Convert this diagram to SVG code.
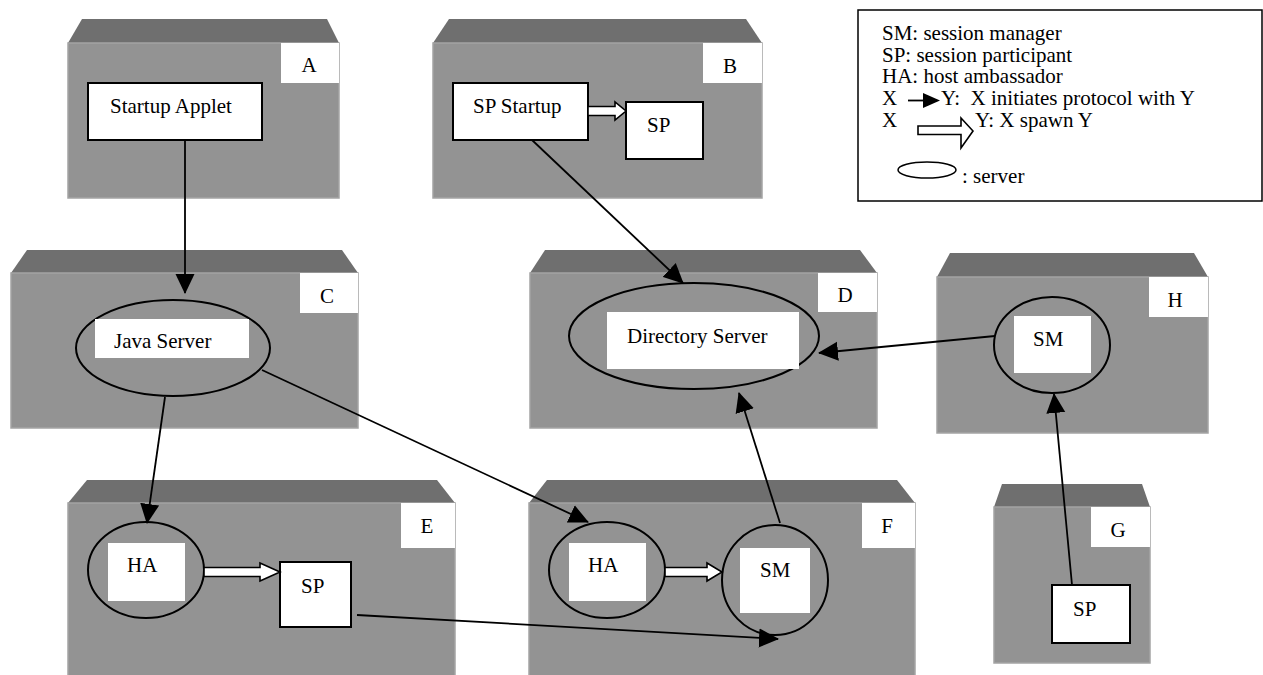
<svg xmlns="http://www.w3.org/2000/svg" width="1263" height="675" viewBox="0 0 1263 675" font-family="'Liberation Serif', 'Times New Roman', serif" font-size="21">
<defs>
<style>
.top{fill:#6f6f6f;}
.front{fill:#939393;stroke:#a4a4a4;stroke-width:1.5;}
.lab{fill:#fff;}
.box{fill:#fff;stroke:#000;stroke-width:2;}
.srv{fill:none;stroke:#000;stroke-width:2;}
svg text.t{font-family:'Liberation Serif','Times New Roman',serif !important;font-size:21px !important;fill:#000;}
svg text.c{text-anchor:middle;}
.conn{stroke:#000;stroke-width:1.8;fill:none;marker-end:url(#ah);}
.spawn{fill:#fff;stroke:#000;stroke-width:1.6;stroke-linejoin:miter;}
</style>
<marker id="ah" markerUnits="userSpaceOnUse" markerWidth="20" markerHeight="20" viewBox="0 0 20 20" refX="19" refY="10" orient="auto">
<path d="M0,0.5 L20,10 L0,19.5 z" fill="#000"/>
</marker>
</defs>
<rect width="1263" height="675" fill="#fff"/>

<g id="nodeA">
<polygon class="top" points="82,19 327,19 339,43 68,43"/>
<rect class="front" x="68" y="43" width="271" height="155"/>
<rect class="lab" x="281" y="43" width="58" height="40"/>
<text class="t c" x="309" y="72">A</text>
<g id="startupApplet">
<rect class="box" x="88" y="83" width="174" height="57"/>
<text class="t" x="110" y="113">Startup Applet</text>
</g>
</g>

<g id="nodeB">
<polygon class="top" points="449,19 746,19 762,43 433,43"/>
<rect class="front" x="433" y="43" width="329" height="155"/>
<rect class="lab" x="703" y="43" width="59" height="40"/>
<text class="t c" x="730" y="73">B</text>
<g id="spStartup">
<rect class="box" x="453" y="83" width="135" height="57"/>
<text class="t" x="473" y="113">SP Startup</text>
</g>
<g id="spB">
<rect class="box" x="626" y="102" width="77" height="57"/>
<text class="t" x="647" y="132">SP</text>
</g>
</g>

<g id="nodeC">
<polygon class="top" points="27,250 342,250 358,273 11,273"/>
<rect class="front" x="11" y="273" width="347" height="155"/>
<rect class="lab" x="300" y="273" width="58" height="40"/>
<text class="t c" x="327" y="303">C</text>
<g id="javaServer">
<ellipse class="srv" cx="173" cy="348" rx="97" ry="48"/>
<rect class="lab" x="95" y="319" width="154" height="39"/>
<text class="t" x="114" y="348">Java Server</text>
</g>
</g>

<g id="nodeD">
<polygon class="top" points="545,250 860,250 877,273 530,273"/>
<rect class="front" x="530" y="273" width="347" height="155"/>
<rect class="lab" x="818" y="273" width="59" height="39"/>
<text class="t c" x="845" y="302">D</text>
<g id="directoryServer">
<ellipse class="srv" cx="694" cy="336" rx="125" ry="53"/>
<rect class="lab" x="607" y="312" width="192" height="57"/>
<text class="t" x="627" y="343">Directory Server</text>
</g>
</g>

<g id="nodeH">
<polygon class="top" points="950,253 1194,253 1208,277 937,277"/>
<rect class="front" x="937" y="277" width="271" height="156"/>
<rect class="lab" x="1149" y="277" width="59" height="40"/>
<text class="t c" x="1175" y="307">H</text>
<g id="smH">
<ellipse class="srv" cx="1052" cy="345" rx="58" ry="48"/>
<rect class="lab" x="1014" y="316" width="77" height="57"/>
<text class="t" x="1033" y="346">SM</text>
</g>
</g>

<g id="nodeE">
<polygon class="top" points="87,480 437,480 455,503 68,503"/>
<rect class="front" x="68" y="503" width="387" height="175"/>
<rect class="lab" x="401" y="503" width="54" height="45"/>
<text class="t c" x="427" y="533">E</text>
<g id="haE">
<ellipse class="srv" cx="146" cy="570" rx="58" ry="48"/>
<rect class="lab" x="108" y="543" width="77" height="58"/>
<text class="t" x="127" y="572">HA</text>
</g>
<g id="spE">
<rect class="box" x="280" y="562" width="71" height="65"/>
<text class="t" x="301" y="593">SP</text>
</g>
</g>

<g id="nodeF">
<polygon class="top" points="547,480 897,480 915,503 529,503"/>
<rect class="front" x="529" y="503" width="386" height="175"/>
<rect class="lab" x="862" y="503" width="53" height="45"/>
<text class="t c" x="887" y="533">F</text>
<g id="haF">
<ellipse class="srv" cx="607" cy="570" rx="58" ry="48"/>
<rect class="lab" x="569" y="543" width="77" height="58"/>
<text class="t" x="588" y="572">HA</text>
</g>
<g id="smF">
<ellipse class="srv" cx="775" cy="580" rx="53" ry="55"/>
<rect class="lab" x="740" y="548" width="70" height="65"/>
<text class="t" x="760" y="577">SM</text>
</g>
</g>

<g id="nodeG">
<polygon class="top" points="1002,484 1142,484 1150,507 994,507"/>
<rect class="front" x="994" y="507" width="156" height="156"/>
<rect class="lab" x="1091" y="507" width="59" height="40"/>
<text class="t c" x="1118" y="537">G</text>
<g id="spG">
<rect class="box" x="1052" y="585" width="78" height="58"/>
<text class="t" x="1073" y="616">SP</text>
</g>
</g>

<g id="connectors">
<line class="conn" x1="185" y1="140" x2="185" y2="293"/>
<line class="conn" x1="532" y1="140" x2="683" y2="283"/>
<line class="conn" x1="165" y1="397" x2="147" y2="523"/>
<line class="conn" x1="262" y1="370" x2="588" y2="522"/>
<line class="conn" x1="995" y1="336" x2="819" y2="353"/>
<line class="conn" x1="780" y1="523" x2="739" y2="393"/>
<line class="conn" x1="357" y1="615" x2="778" y2="639"/>
<line class="conn" x1="1072" y1="585" x2="1054" y2="394"/>
<polygon class="spawn" points="588,106.5 615,106.5 615,102 626,111 615,120 615,115.5 588,115.5"/>
<polygon class="spawn" points="204,567.5 260,567.5 260,563 280,572 260,581 260,576.5 204,576.5"/>
<polygon class="spawn" points="665,567.5 707,567.5 707,563 722,572 707,581 707,576.5 665,576.5"/>
</g>

<g id="legend">
<rect x="858" y="10" width="404" height="191" fill="#fff" stroke="#000" stroke-width="1.5"/>
<text class="t" x="882" y="40">SM: session manager</text>
<text class="t" x="882" y="62">SP: session participant</text>
<text class="t" x="882" y="83">HA: host ambassador</text>
<text class="t" x="882" y="105">X</text>
<line x1="908" y1="100.5" x2="924" y2="100.5" stroke="#000" stroke-width="1.8"/>
<polygon points="923,93 940,100.5 923,108" fill="#000"/>
<text class="t" x="941" y="105" xml:space="preserve">Y:  X initiates protocol with Y</text>
<text class="t" x="882" y="127">X</text>
<polygon class="spawn" points="918,126 961,126 961,118 973,131 961,148 961,134.5 918,134.5"/>
<text class="t" x="975" y="127">Y: X spawn Y</text>
<ellipse cx="927" cy="170" rx="29" ry="8" fill="none" stroke="#000" stroke-width="1.5"/>
<text class="t" x="962" y="183">: server</text>
</g>
</svg>
